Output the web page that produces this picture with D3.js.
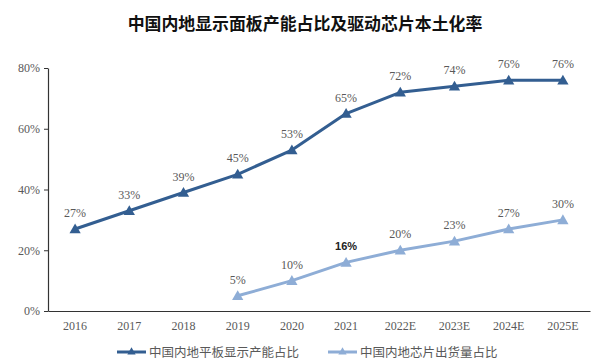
<!DOCTYPE html>
<html>
<head>
<meta charset="utf-8">
<script src="https://cdn.jsdelivr.net/npm/d3@7"></script>
<style>
  body { margin: 0; background: #fff; }
  svg { display: block; }
</style>
</head>
<body>
<div id="chart"></div>
<script>
// chart data
const years = ['2016', '2017', '2018', '2019', '2020', '2021', '2022E', '2023E', '2024E', '2025E'];
const panelShare = [27, 33, 39, 45, 53, 65, 72, 74, 76, 76];
const chipShare = [null, null, null, 5, 10, 16, 20, 23, 27, 30];
const yTicks = [0, 20, 40, 60, 80];
const seriesNames = ['中国内地平板显示产能占比', '中国内地芯片出货量占比'];

const W = 610, H = 364;
const m = { left: 48, right: 20, top: 68, bottom: 53 };

const svg = d3.select('#chart').append('svg').attr('width', W).attr('height', H);

const x = d3.scaleBand().domain(years).range([m.left, W - m.right]);
const y = d3.scaleLinear().domain([0, 80]).range([H - m.bottom, m.top]);

const serif = '"Liberation Serif", "Times New Roman", serif';
const sans = '"Noto Sans CJK SC", sans-serif';
const textCol = '#595959';

// title
svg.append('text')
  .attr('x', 305).attr('y', 30)
  .attr('text-anchor', 'middle')
  .style('font-family', sans).style('font-weight', 'bold').style('font-size', '16.9px')
  .attr('fill', '#111')
  .text('中国内地显示面板产能占比及驱动芯片本土化率');

// y axis
const yAxis = svg.append('g')
  .attr('transform', `translate(${m.left},0)`)
  .call(d3.axisLeft(y).tickValues(yTicks).tickFormat(d => d + '%').tickSize(4).tickSizeOuter(0));
yAxis.select('.domain').attr('stroke', '#333').attr('stroke-width', 1.2);
yAxis.selectAll('.tick line').attr('stroke', '#333');
yAxis.selectAll('text').style('font-family', serif).style('font-size', '12px').attr('fill', textCol).attr('x', -8);

// x axis
const xAxis = svg.append('g')
  .attr('transform', `translate(0,${H - m.bottom})`)
  .call(d3.axisBottom(x).tickSize(0).tickSizeOuter(0));
xAxis.select('.domain').attr('stroke', '#333').attr('stroke-width', 1.2);
xAxis.selectAll('text').style('font-family', serif).style('font-size', '12px').attr('fill', textCol).attr('dy', '1.35em');

const tri = d3.symbol().type(d3.symbolTriangle).size(55);

function drawSeries(vals, color, boldIdx) {
  const pts = years.map((yr, i) => ({ yr, v: vals[i], i })).filter(d => d.v != null);
  const line = d3.line().x(d => x(d.yr) + x.bandwidth() / 2).y(d => y(d.v));
  svg.append('path').datum(pts)
    .attr('d', line).attr('fill', 'none')
    .attr('stroke', color).attr('stroke-width', 3).attr('stroke-linejoin', 'round');
  svg.append('g').selectAll('path').data(pts).join('path')
    .attr('d', tri)
    .attr('transform', d => `translate(${x(d.yr) + x.bandwidth() / 2},${y(d.v) + 1})`)
    .attr('fill', color);
  svg.append('g').selectAll('text').data(pts).join('text')
    .attr('x', d => x(d.yr) + x.bandwidth() / 2)
    .attr('y', d => y(d.v) - 12)
    .attr('text-anchor', 'middle')
    .style('font-family', d => d.i === boldIdx ? '"Liberation Sans", Arial, sans-serif' : serif)
    .style('font-weight', d => d.i === boldIdx ? 'bold' : 'normal')
    .style('font-size', d => d.i === boldIdx ? '11px' : '12px')
    .attr('fill', d => d.i === boldIdx ? '#222' : textCol)
    .text(d => d.v + '%');
}

drawSeries(panelShare, '#335e91', -1);
drawSeries(chipShare, '#8eadd6', 5);

// legend
const legend = svg.append('g');
const legX = [117, 328];
[['#335e91', seriesNames[0]], ['#8eadd6', seriesNames[1]]].forEach(([c, name], i) => {
  const g = legend.append('g').attr('transform', `translate(${legX[i]},352)`);
  g.append('line').attr('x1', 0).attr('x2', 29).attr('stroke', c).attr('stroke-width', 3);
  g.append('path').attr('d', d3.symbol().type(d3.symbolTriangle).size(30)).attr('transform', 'translate(14.5,0)').attr('fill', c);
  g.append('text').attr('x', 32).attr('y', 4.5)
    .style('font-family', sans).style('font-size', '12.5px').attr('fill', textCol)
    .text(name);
});
</script>
</body>
</html>
